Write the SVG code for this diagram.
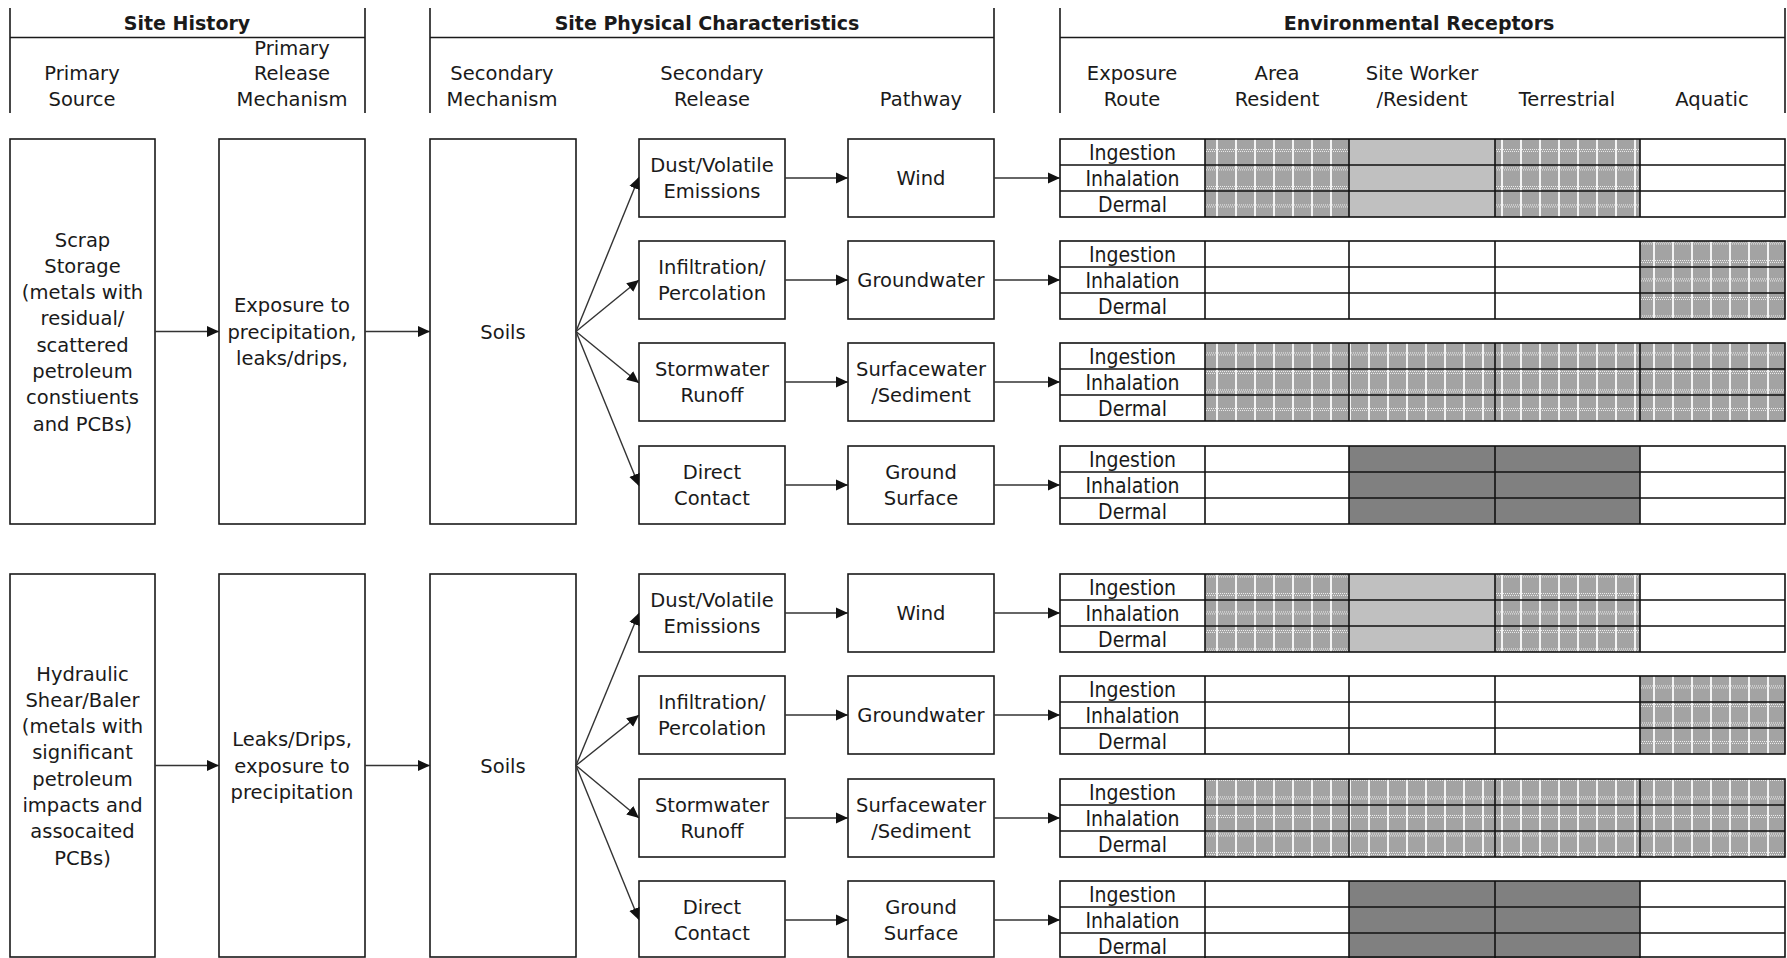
<svg xmlns="http://www.w3.org/2000/svg" width="1787" height="958" viewBox="0 0 1787 958">
<style>
.bx{fill:#fff;stroke:#1a1a1a;stroke-width:1.6}
.ln{stroke:#1a1a1a;stroke-width:1.6;fill:none}
.t{font-family:"DejaVu Sans","Liberation Sans",sans-serif;font-size:19.5px;text-anchor:middle;fill:#1a1a1a}
.ti{font-family:"DejaVu Sans","Liberation Sans",sans-serif;font-size:19px;font-weight:bold;text-anchor:middle;fill:#1a1a1a}
.tc{font-family:"DejaVu Sans Condensed","DejaVu Sans","Liberation Sans Narrow",sans-serif;font-size:21px;text-anchor:middle;fill:#1a1a1a}
.cn{stroke:#333;stroke-width:1.4;fill:none;marker-end:url(#ah)}
.pat{fill:url(#hatch)}
.lg{fill:#c0c0c0}
.dg{fill:#808080}
.grid{stroke:#111;stroke-width:1.6;fill:none}
</style>
<defs>
<marker id="ah" markerUnits="userSpaceOnUse" markerWidth="12" markerHeight="12" refX="12" refY="6" orient="auto">
<path d="M0,0.5 L12,6 L0,11.5 z" fill="#111"/>
</marker>
<pattern id="hatch" width="19" height="18.5" patternUnits="userSpaceOnUse">
<rect width="19" height="18.5" fill="#a3a3a3"/>
<rect x="0" y="0" width="2" height="18.5" fill="#f4f4f4"/>
<path d="M0,1.5 H19 M1,3.5 H19" stroke="#f0f0f0" stroke-width="1" stroke-dasharray="1 1"/>
</pattern>
</defs>
<rect width="1787" height="958" fill="#fff"/>

<g id="hdr-site-history">
<path class="ln" d="M10,8 V113 M365,8 V113 M10,37.5 H365"/>
<text class="ti" x="187" y="30">Site History</text>
<text class="t" x="82" y="80">Primary</text>
<text class="t" x="82" y="106">Source</text>
<text class="t" x="292" y="55">Primary</text>
<text class="t" x="292" y="80">Release</text>
<text class="t" x="292" y="106">Mechanism</text>
</g>
<g id="hdr-site-physical">
<path class="ln" d="M430,8 V113 M994,8 V113 M430,37.5 H994"/>
<text class="ti" x="707" y="30">Site Physical Characteristics</text>
<text class="t" x="502" y="80">Secondary</text>
<text class="t" x="502" y="106">Mechanism</text>
<text class="t" x="712" y="80">Secondary</text>
<text class="t" x="712" y="106">Release</text>
<text class="t" x="921" y="106">Pathway</text>
</g>
<g id="hdr-env-receptors">
<path class="ln" d="M1060,8 V113 M1785,8 V113 M1060,37.5 H1785"/>
<text class="ti" x="1419" y="30">Environmental Receptors</text>
<text class="t" x="1132" y="80">Exposure</text>
<text class="t" x="1132" y="106">Route</text>
<text class="t" x="1277" y="80">Area</text>
<text class="t" x="1277" y="106">Resident</text>
<text class="t" x="1422" y="80">Site Worker</text>
<text class="t" x="1422" y="106">/Resident</text>
<text class="t" x="1567" y="106">Terrestrial</text>
<text class="t" x="1712" y="106">Aquatic</text>
</g>

<!-- Group 1 -->
<g id="src1">
<rect class="bx" x="10" y="139" width="145" height="385"/>
<text class="t" x="82.5" y="246.5">Scrap</text>
<text class="t" x="82.5" y="272.8">Storage</text>
<text class="t" x="82.5" y="299.1">(metals with</text>
<text class="t" x="82.5" y="325.4">residual/</text>
<text class="t" x="82.5" y="351.7">scattered</text>
<text class="t" x="82.5" y="378">petroleum</text>
<text class="t" x="82.5" y="404.3">constiuents</text>
<text class="t" x="82.5" y="430.6">and PCBs)</text>
</g>
<g id="rel1">
<rect class="bx" x="219" y="139" width="146" height="385"/>
<text class="t" x="292" y="312.2">Exposure to</text>
<text class="t" x="292" y="338.5">precipitation,</text>
<text class="t" x="292" y="364.8">leaks/drips,</text>
</g>
<g id="soils1">
<rect class="bx" x="430" y="139" width="146" height="385"/>
<text class="t" x="503" y="338.5">Soils</text>
</g>
<g id="dust1"><rect class="bx" x="639" y="139" width="146" height="78"/>
<text class="t" x="712" y="171.9">Dust/Volatile</text><text class="t" x="712" y="198.1">Emissions</text></g>
<g id="infil1"><rect class="bx" x="639" y="241" width="146" height="78"/>
<text class="t" x="712" y="273.9">Infiltration/</text><text class="t" x="712" y="300.1">Percolation</text></g>
<g id="storm1"><rect class="bx" x="639" y="343" width="146" height="78"/>
<text class="t" x="712" y="375.9">Stormwater</text><text class="t" x="712" y="402.1">Runoff</text></g>
<g id="direct1"><rect class="bx" x="639" y="446" width="146" height="78"/>
<text class="t" x="712" y="478.9">Direct</text><text class="t" x="712" y="505.1">Contact</text></g>
<g id="wind1"><rect class="bx" x="848" y="139" width="146" height="78"/>
<text class="t" x="921" y="185">Wind</text></g>
<g id="gw1"><rect class="bx" x="848" y="241" width="146" height="78"/>
<text class="t" x="921" y="287">Groundwater</text></g>
<g id="sw1"><rect class="bx" x="848" y="343" width="146" height="78"/>
<text class="t" x="921" y="375.9">Surfacewater</text><text class="t" x="921" y="402.1">/Sediment</text></g>
<g id="gs1"><rect class="bx" x="848" y="446" width="146" height="78"/>
<text class="t" x="921" y="478.9">Ground</text><text class="t" x="921" y="505.1">Surface</text></g>

<g id="tbl-wind1">
<rect class="pat" x="1205" y="139" width="144" height="78"/>
<rect class="lg" x="1349" y="139" width="146" height="78"/>
<rect class="pat" x="1495" y="139" width="145" height="78"/>
<rect class="grid" x="1060" y="139" width="725" height="78"/>
<path class="grid" d="M1060,165 H1785 M1060,191 H1785 M1205,139 V217 M1349,139 V217 M1495,139 V217 M1640,139 V217"/>
<text class="tc" x="1132.5" y="159.5">Ingestion</text><text class="tc" x="1132.5" y="185.5">Inhalation</text><text class="tc" x="1132.5" y="211.5">Dermal</text>
</g>
<g id="tbl-gw1">
<rect class="pat" x="1640" y="241" width="145" height="78"/>
<rect class="grid" x="1060" y="241" width="725" height="78"/>
<path class="grid" d="M1060,267 H1785 M1060,293 H1785 M1205,241 V319 M1349,241 V319 M1495,241 V319 M1640,241 V319"/>
<text class="tc" x="1132.5" y="261.5">Ingestion</text><text class="tc" x="1132.5" y="287.5">Inhalation</text><text class="tc" x="1132.5" y="313.5">Dermal</text>
</g>
<g id="tbl-sw1">
<rect class="pat" x="1205" y="343" width="580" height="78"/>
<rect class="grid" x="1060" y="343" width="725" height="78"/>
<path class="grid" d="M1060,369 H1785 M1060,395 H1785 M1205,343 V421 M1349,343 V421 M1495,343 V421 M1640,343 V421"/>
<text class="tc" x="1132.5" y="363.5">Ingestion</text><text class="tc" x="1132.5" y="389.5">Inhalation</text><text class="tc" x="1132.5" y="415.5">Dermal</text>
</g>
<g id="tbl-gs1">
<rect class="dg" x="1349" y="446" width="291" height="78"/>
<rect class="grid" x="1060" y="446" width="725" height="78"/>
<path class="grid" d="M1060,472 H1785 M1060,498 H1785 M1205,446 V524 M1349,446 V524 M1495,446 V524 M1640,446 V524"/>
<text class="tc" x="1132.5" y="466.5">Ingestion</text><text class="tc" x="1132.5" y="492.5">Inhalation</text><text class="tc" x="1132.5" y="518.5">Dermal</text>
</g>

<!-- Group 2 -->
<g id="src2">
<rect class="bx" x="10" y="574" width="145" height="383"/>
<text class="t" x="82.5" y="680.5">Hydraulic</text>
<text class="t" x="82.5" y="706.8">Shear/Baler</text>
<text class="t" x="82.5" y="733.1">(metals with</text>
<text class="t" x="82.5" y="759.4">significant</text>
<text class="t" x="82.5" y="785.7">petroleum</text>
<text class="t" x="82.5" y="812">impacts and</text>
<text class="t" x="82.5" y="838.3">assocaited</text>
<text class="t" x="82.5" y="864.6">PCBs)</text>
</g>
<g id="rel2">
<rect class="bx" x="219" y="574" width="146" height="383"/>
<text class="t" x="292" y="746.2">Leaks/Drips,</text>
<text class="t" x="292" y="772.5">exposure to</text>
<text class="t" x="292" y="798.8">precipitation</text>
</g>
<g id="soils2">
<rect class="bx" x="430" y="574" width="146" height="383"/>
<text class="t" x="503" y="772.5">Soils</text>
</g>
<g id="dust2"><rect class="bx" x="639" y="574" width="146" height="78"/>
<text class="t" x="712" y="606.9">Dust/Volatile</text><text class="t" x="712" y="633.1">Emissions</text></g>
<g id="infil2"><rect class="bx" x="639" y="676" width="146" height="78"/>
<text class="t" x="712" y="708.9">Infiltration/</text><text class="t" x="712" y="735.1">Percolation</text></g>
<g id="storm2"><rect class="bx" x="639" y="779" width="146" height="78"/>
<text class="t" x="712" y="811.9">Stormwater</text><text class="t" x="712" y="838.1">Runoff</text></g>
<g id="direct2"><rect class="bx" x="639" y="881" width="146" height="76"/>
<text class="t" x="712" y="913.9">Direct</text><text class="t" x="712" y="940.1">Contact</text></g>
<g id="wind2"><rect class="bx" x="848" y="574" width="146" height="78"/>
<text class="t" x="921" y="620">Wind</text></g>
<g id="gw2"><rect class="bx" x="848" y="676" width="146" height="78"/>
<text class="t" x="921" y="722">Groundwater</text></g>
<g id="sw2"><rect class="bx" x="848" y="779" width="146" height="78"/>
<text class="t" x="921" y="811.9">Surfacewater</text><text class="t" x="921" y="838.1">/Sediment</text></g>
<g id="gs2"><rect class="bx" x="848" y="881" width="146" height="76"/>
<text class="t" x="921" y="913.9">Ground</text><text class="t" x="921" y="940.1">Surface</text></g>

<g id="tbl-wind2">
<rect class="pat" x="1205" y="574" width="144" height="78"/>
<rect class="lg" x="1349" y="574" width="146" height="78"/>
<rect class="pat" x="1495" y="574" width="145" height="78"/>
<rect class="grid" x="1060" y="574" width="725" height="78"/>
<path class="grid" d="M1060,600 H1785 M1060,626 H1785 M1205,574 V652 M1349,574 V652 M1495,574 V652 M1640,574 V652"/>
<text class="tc" x="1132.5" y="594.5">Ingestion</text><text class="tc" x="1132.5" y="620.5">Inhalation</text><text class="tc" x="1132.5" y="646.5">Dermal</text>
</g>
<g id="tbl-gw2">
<rect class="pat" x="1640" y="676" width="145" height="78"/>
<rect class="grid" x="1060" y="676" width="725" height="78"/>
<path class="grid" d="M1060,702 H1785 M1060,728 H1785 M1205,676 V754 M1349,676 V754 M1495,676 V754 M1640,676 V754"/>
<text class="tc" x="1132.5" y="696.5">Ingestion</text><text class="tc" x="1132.5" y="722.5">Inhalation</text><text class="tc" x="1132.5" y="748.5">Dermal</text>
</g>
<g id="tbl-sw2">
<rect class="pat" x="1205" y="779" width="580" height="78"/>
<rect class="grid" x="1060" y="779" width="725" height="78"/>
<path class="grid" d="M1060,805 H1785 M1060,831 H1785 M1205,779 V857 M1349,779 V857 M1495,779 V857 M1640,779 V857"/>
<text class="tc" x="1132.5" y="799.5">Ingestion</text><text class="tc" x="1132.5" y="825.5">Inhalation</text><text class="tc" x="1132.5" y="851.5">Dermal</text>
</g>
<g id="tbl-gs2">
<rect class="dg" x="1349" y="881" width="291" height="78"/>
<rect class="grid" x="1060" y="881" width="725" height="76"/>
<path class="grid" d="M1060,907 H1785 M1060,933 H1785 M1205,881 V958 M1349,881 V958 M1495,881 V958 M1640,881 V958"/>
<text class="tc" x="1132.5" y="901.5">Ingestion</text><text class="tc" x="1132.5" y="927.5">Inhalation</text><text class="tc" x="1132.5" y="953.5">Dermal</text>
</g>

<g id="connectors">
<path class="cn" d="M155,331.5 H219"/>
<path class="cn" d="M365,331.5 H430"/>
<path class="cn" d="M576,331.5 L639,177"/>
<path class="cn" d="M576,331.5 L639,280"/>
<path class="cn" d="M576,331.5 L639,383"/>
<path class="cn" d="M576,331.5 L639,486"/>
<path class="cn" d="M785,178 H848"/>
<path class="cn" d="M785,280 H848"/>
<path class="cn" d="M785,382 H848"/>
<path class="cn" d="M785,485 H848"/>
<path class="cn" d="M994,178 H1060"/>
<path class="cn" d="M994,280 H1060"/>
<path class="cn" d="M994,382 H1060"/>
<path class="cn" d="M994,485 H1060"/>
<path class="cn" d="M155,765.5 H219"/>
<path class="cn" d="M365,765.5 H430"/>
<path class="cn" d="M576,765.5 L639,613"/>
<path class="cn" d="M576,765.5 L639,715"/>
<path class="cn" d="M576,765.5 L639,818"/>
<path class="cn" d="M576,765.5 L639,920"/>
<path class="cn" d="M785,613 H848"/>
<path class="cn" d="M785,715 H848"/>
<path class="cn" d="M785,818 H848"/>
<path class="cn" d="M785,920 H848"/>
<path class="cn" d="M994,613 H1060"/>
<path class="cn" d="M994,715 H1060"/>
<path class="cn" d="M994,818 H1060"/>
<path class="cn" d="M994,920 H1060"/>
</g>
</svg>
